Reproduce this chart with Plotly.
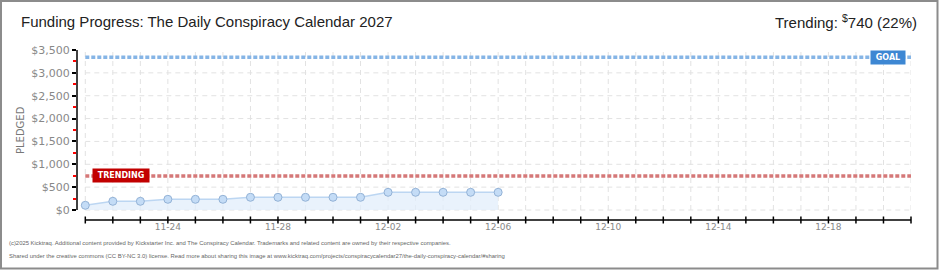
import plotly.graph_objects as go
import pandas as pd

# ---- data ----
dates = ["2025-11-21", "2025-11-22", "2025-11-23", "2025-11-24", "2025-11-25", "2025-11-26",
         "2025-11-27", "2025-11-28", "2025-11-29", "2025-11-30", "2025-12-01", "2025-12-02",
         "2025-12-03", "2025-12-04", "2025-12-05", "2025-12-06"]
pledged = [103, 190, 190, 234, 234, 234, 278, 278, 278, 278, 278, 387, 387, 387, 387, 387]
goal = 3340
trending = 744
period_start = "2025-11-21"
period_end = "2025-12-21"
xtick_vals = ["2025-11-24", "2025-11-28", "2025-12-02", "2025-12-06", "2025-12-10", "2025-12-14", "2025-12-18"]
xtick_text = ["11-24", "11-28", "12-02", "12-06", "12-10", "12-14", "12-18"]
ytick_vals = [0, 500, 1000, 1500, 2000, 2500, 3000, 3500]
ytick_text = ["$0", "$500", "$1,000", "$1,500", "$2,000", "$2,500", "$3,000", "$3,500"]
yminor_vals = [250, 750, 1250, 1750, 2250, 2750, 3250]
title_text = "Funding Progress: The Daily Conspiracy Calendar 2027"
trend_text = "Trending: <sup>$</sup>740 (22%)"
footer1 = "(c)2025 Kicktraq. Additional content provided by Kickstarter Inc. and The Conspiracy Calendar. Trademarks and related content are owned by their respective companies."
footer2 = "Shared under the creative commons (CC BY-NC 3.0) license. Read more about sharing this image at www.kicktraq.com/projects/conspiracycalendar27/the-daily-conspiracy-calendar/#sharing"

# ---- layout geometry ----
W, H = 940, 270
ML, MR, MT, MB = 77, 29, 50, 50
PW, PH = W - ML - MR, H - MT - MB
day_px = PW / 30.3
x_lo = pd.Timestamp(period_start) - pd.Timedelta(days=(85.3 - ML) / day_px)
x_hi = pd.Timestamp(period_end)
y_top = 3500
y_lo = -(10 / 160) * 3500

def px2x(px):
    return (px - ML) / PW

def px2y(py):
    return (H - MB - py) / PH

all_days = pd.date_range(period_start, period_end, freq="D")

fig = go.Figure()

# goal & trending lines
fig.add_trace(go.Scatter(x=[period_start, period_end], y=[goal, goal], mode="lines",
                         line=dict(color="#86b5e6", width=3.5, dash="4px,2px"),
                         hoverinfo="skip", showlegend=False))
fig.add_trace(go.Scatter(x=[period_start, period_end], y=[trending, trending], mode="lines",
                         line=dict(color="#d57878", width=3.5, dash="4px,2px"),
                         hoverinfo="skip", showlegend=False))

# pledged data
fig.add_trace(go.Scatter(x=dates, y=pledged, mode="lines+markers", fill="tozeroy",
                         fillcolor="rgba(225,237,251,0.75)",
                         line=dict(color="#bcd6f2", width=1.5),
                         marker=dict(size=8, color="#c4dcf6", line=dict(color="#93b2d6", width=1)),
                         showlegend=False))

# x-axis tick marks (crossing the axis line)
fig.add_trace(go.Scatter(x=all_days, y=[y_lo] * len(all_days), mode="markers",
                         marker=dict(symbol="line-ns", size=5, line=dict(color="#000", width=1.5)),
                         cliponaxis=False, hoverinfo="skip", showlegend=False))

shapes = []
# grid lines
for d in all_days:
    shapes.append(dict(type="line", xref="x", yref="y", x0=d, x1=d, y0=0, y1=y_top,
                       line=dict(color="#e2e2e2", width=1, dash="5px,4px"), layer="below"))
for v in ytick_vals[:-1]:
    shapes.append(dict(type="line", xref="x", yref="y", x0=period_start, x1=period_end, y0=v, y1=v,
                       line=dict(color="#e2e2e2", width=1, dash="5px,4px"), layer="below"))
# axis lines
shapes.append(dict(type="line", xref="paper", yref="y", x0=0, x1=0, y0=0, y1=y_top,
                   line=dict(color="#000", width=1.5)))
shapes.append(dict(type="line", xref="x", yref="paper", x0=period_start, x1=period_end, y0=0, y1=0,
                   line=dict(color="#000", width=1.5)))
# outer border
shapes.append(dict(type="rect", xref="paper", yref="paper",
                   x0=px2x(1), x1=px2x(937.5), y0=px2y(1), y1=px2y(268.5),
                   line=dict(color="#8c8c8c", width=2)))

footer_font = dict(family="Liberation Sans", size=5.9, color="#666")
annotations = [
    dict(text=title_text, xref="paper", yref="paper", x=px2x(19), y=px2y(22), xanchor="left",
         yanchor="middle", showarrow=False, font=dict(family="Liberation Sans", size=15, color="#222")),
    dict(text=trend_text, xref="paper", yref="paper", x=px2x(919), y=px2y(22), xanchor="right",
         yanchor="middle", showarrow=False, font=dict(family="Liberation Sans", size=15, color="#222")),
    dict(text=footer1, xref="paper", yref="paper", x=px2x(7), y=px2y(243), xanchor="left",
         yanchor="middle", showarrow=False, font=footer_font),
    dict(text=footer2, xref="paper", yref="paper", x=px2x(7), y=px2y(256), xanchor="left",
         yanchor="middle", showarrow=False, font=footer_font),
    dict(text="<b>GOAL</b>", xref="paper", yref="y", x=px2x(887.5), y=goal, xanchor="center",
         yanchor="middle", showarrow=False, bgcolor="#3d87d3", borderpad=2, width=30,
         font=dict(family="DejaVu Sans", size=8, color="#fff")),
    dict(text="<b>TRENDING</b>", xref="paper", yref="y", x=px2x(121), y=trending, xanchor="center",
         yanchor="middle", showarrow=False, bgcolor="#c20000", borderpad=2, width=52,
         font=dict(family="DejaVu Sans", size=8, color="#fff")),
    dict(text="PLEDGED", xref="paper", yref="paper", x=px2x(20), y=px2y(130), textangle=-90,
         xanchor="center", yanchor="middle", showarrow=False,
         font=dict(family="DejaVu Sans", size=10, color="#777")),
]

fig.update_layout(
    width=W, height=H, margin=dict(l=ML, r=MR, t=MT, b=MB),
    paper_bgcolor="#fff", plot_bgcolor="#fff",
    shapes=shapes, annotations=annotations,
    xaxis=dict(range=[x_lo, x_hi], tickvals=xtick_vals, ticktext=xtick_text, showgrid=False,
               zeroline=False, showline=False, ticks="",
               tickfont=dict(family="DejaVu Sans", size=9, color="#888")),
    yaxis=dict(range=[y_lo, y_top], tickvals=ytick_vals, ticktext=ytick_text, showgrid=False,
               zeroline=False, showline=False, ticks="outside", ticklen=4, tickwidth=1.5,
               tickcolor="#000",
               minor=dict(tickvals=yminor_vals, ticks="outside", ticklen=3, tickwidth=1.5, tickcolor="#ff0000"),
               tickfont=dict(family="DejaVu Sans", size=11, color="#888")),
)

fig.write_html("out.html")
